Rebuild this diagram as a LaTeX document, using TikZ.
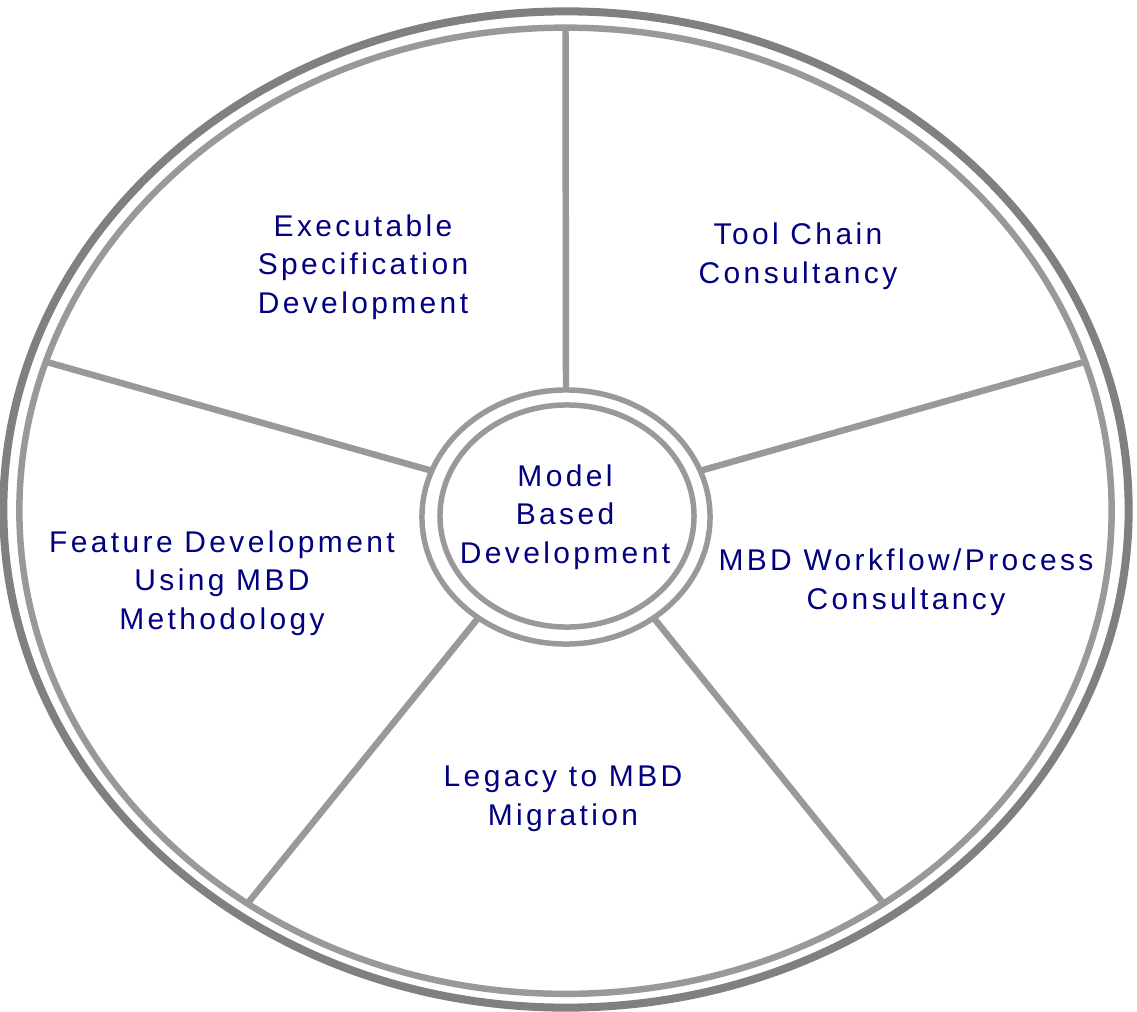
\documentclass[tikz,border=0pt]{standalone}
\usepackage{fontspec}
\setmainfont{Liberation Sans}
\newfontfamily\wheelfont[LetterSpace=11.3]{Liberation Sans}
\usepackage{xcolor}
\usetikzlibrary{shapes.geometric,positioning}
\definecolor{rimdark}{RGB}{128,128,128}
\definecolor{rimgrey}{RGB}{153,153,153}
\definecolor{textnavy}{RGB}{0,0,128}

\begin{document}
\begin{tikzpicture}[x=0.025cm, y=-0.025cm,
    ring/.style={ellipse, draw=rimgrey, inner sep=0pt, outer sep=0pt},
    spoke/.style={draw=rimgrey, line width=4.6pt},
    sectortext/.style={align=center, text=textnavy, font=\wheelfont\fontsize{21.3pt}{27.4pt}\selectfont}]
    \useasboundingbox (0,0) rectangle (1137,1012);

    % Outer rim
    \node[ring, draw=rimdark, line width=5.7pt, minimum width=28.125cm, minimum height=24.9cm] (rimout) at (566,509.5) {};
    \node[ring, line width=4.6pt, minimum width=27.3cm, minimum height=24.15cm] (rim) at (565.5,510.75) {};

    % Hub
    \node[ring, line width=3.9pt, minimum width=7.2cm, minimum height=6.35cm] (hubout) at (566,517) {};
    \node[ring, line width=3.9pt, minimum width=6.35cm, minimum height=5.55cm] (hub) at (567,516) {};

    % Spokes
    \draw[spoke] (hubout.90) -- (rim.90);
    \draw[spoke] (hubout.161) -- (rim.164);
    \draw[spoke] (hubout.19.5) -- (rim.16);
    \draw[spoke] (hubout.229) -- (rim.231);
    \draw[spoke] (hubout.311) -- (rim.309);

    % Sectors
    \node[sectortext] (mbd) at (565,517) {Model\\Based\\Development};
    \node[sectortext] (exec) at (363,267) {Executable\\Specification\\Development};
    \node[sectortext] (tool) at (798,256) {Tool Chain\\Consultancy};
    \node[sectortext] (feature) at (222,583) {Feature Development\\Using MBD\\Methodology};
    \node[sectortext] (workflow) at (906,582) {MBD Workflow/Process\\Consultancy};
    \node[sectortext] (legacy) at (563,799) {Legacy to MBD\\Migration};
\end{tikzpicture}
\end{document}
